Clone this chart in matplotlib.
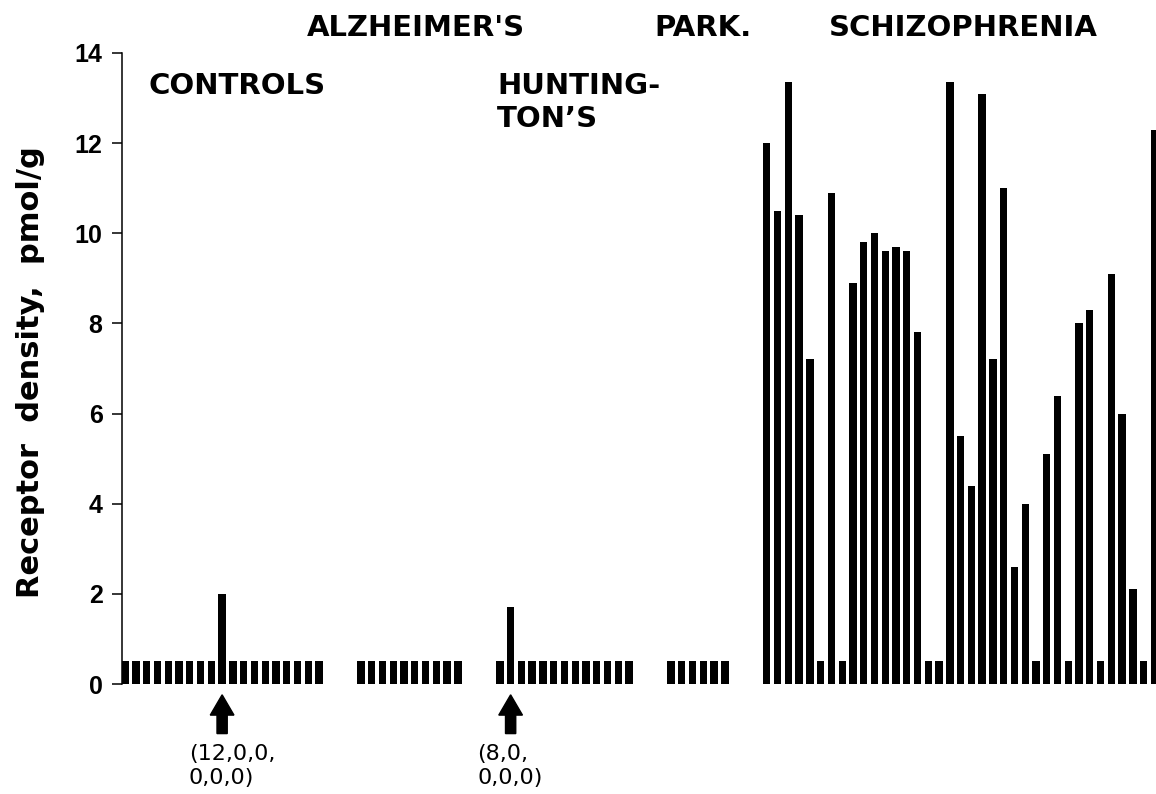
import numpy as np
import matplotlib
matplotlib.use('Agg')
import matplotlib.pyplot as plt
from matplotlib.patches import FancyArrow

plt.rcParams['font.family'] = ['Liberation Sans', 'DejaVu Sans']

# receptor density per brain, pmol/g
controls = [0.5, 0.5, 0.5, 0.5, 0.5, 0.5, 0.5, 0.5, 0.5, 2.0,
            0.5, 0.5, 0.5, 0.5, 0.5, 0.5, 0.5, 0.5, 0.5]
alzheimers = [0.5, 0.5, 0.5, 0.5, 0.5, 0.5, 0.5, 0.5, 0.5, 0.5]
huntingtons = [0.5, 1.7, 0.5, 0.5, 0.5, 0.5, 0.5, 0.5, 0.5, 0.5, 0.5, 0.5, 0.5]
parkinsons = [0.5, 0.5, 0.5, 0.5, 0.5, 0.5]
schizophrenia = [12.0, 10.5, 13.35, 10.4, 7.2, 0.5, 10.9, 0.5, 8.9, 9.8,
                 10.0, 9.6, 9.7, 9.6, 7.8, 0.5, 0.5, 13.35, 5.5, 4.4,
                 13.1, 7.2, 11.0, 2.6, 4.0, 0.5, 5.1, 6.4, 0.5, 8.0,
                 8.3, 0.5, 9.1, 6.0, 2.1, 0.5, 12.3]

groups = [controls, alzheimers, huntingtons, parkinsons, schizophrenia]
y_ticks = [0, 2, 4, 6, 8, 10, 12, 14]

# arrows: (group index, bar index in group, note)
arrow_notes = [(0, 9, '(12,0,0,\n0,0,0)'),
               (2, 1, '(8,0,\n0,0,0)')]

W, H = 1156, 794


def px(x, y):
    return x / W, 1 - y / H


fig = plt.figure(figsize=(W / 100, H / 100), dpi=100)
ax = fig.add_axes([122 / W, 110 / H, 1034 / W, 631 / H])

gap = 3.9
start = 0.0
positions = []
for vals in groups:
    xs = start + np.arange(len(vals))
    positions.append(xs)
    ax.bar(xs, vals, width=0.68, color='black', align='center')
    start = xs[-1] + gap

ax.set_xlim(-0.3, 95.75)
ax.set_ylim(0, 14)
ax.set_yticks(y_ticks)
ax.set_yticklabels([str(t) for t in y_ticks], fontsize=18, fontweight='bold')
ax.set_xticks([])
for s in ['top', 'right', 'bottom']:
    ax.spines[s].set_visible(False)
ax.spines['left'].set_linewidth(1.1)
ax.tick_params(axis='y', direction='out', length=7, width=1.1, pad=7)

for gi, bi, note in arrow_notes:
    x = positions[gi][bi]
    ax.add_patch(FancyArrow(x, -1.1, 0, 0.86, width=0.95, head_width=2.2,
                            head_length=0.45, length_includes_head=True,
                            color='black', clip_on=False))
    ax.text(x - 3.1, -1.33, note, fontsize=16, ha='left', va='top',
            family='DejaVu Sans', linespacing=1.25, clip_on=False)

fig.text(*px(31, 372), 'Receptor  density,  pmol/g', rotation=90,
         fontsize=22, fontweight='bold', family='DejaVu Sans',
         ha='center', va='center')

title_kw = dict(fontsize=21, fontweight='bold', family='DejaVu Sans',
                ha='left', va='center')
fig.text(*px(307, 28), "ALZHEIMER'S", **title_kw)
fig.text(*px(654, 28), 'PARK.', **title_kw)
fig.text(*px(829, 28), 'SCHIZOPHRENIA', **title_kw)
fig.text(*px(148, 86), 'CONTROLS', **title_kw)
fig.text(*px(497, 86), 'HUNTING-', **title_kw)
fig.text(*px(497, 119), 'TON\u2019S', **title_kw)

fig.savefig('out.png', dpi=100)
